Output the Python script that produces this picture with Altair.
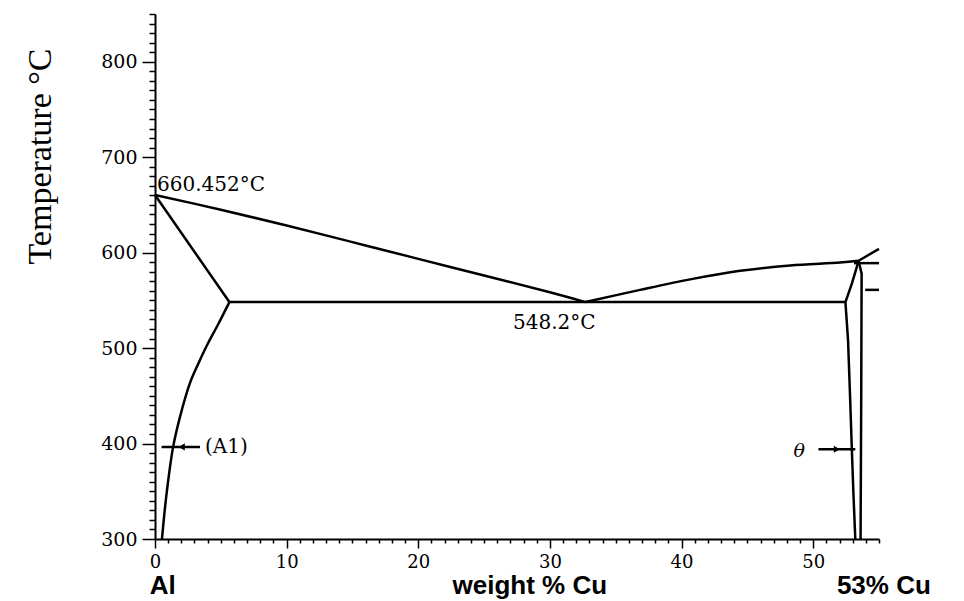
import altair as alt
import pandas as pd

# ---- phase boundary data (weight % Cu, temperature degC) ----
liq_left_x = [0, 5, 10, 15, 20, 25, 30, 32.7]
liq_left_t = [660.452, 645, 628.5, 611, 593.5, 576, 558.5, 548.2]

liq_right_x = [32.7, 36.85, 40.65, 44.45, 48.25, 52.05, 53.45]
liq_right_t = [548.2, 561, 572, 581, 586.5, 589.6, 591.5]

liq_upper_x = [53.45, 55]
liq_upper_t = [591.5, 604]

solidus_x = [0, 5.65]
solidus_t = [660.452, 548.2]

solvus_x = [5.65, 4.8, 3.95, 3.3, 2.66, 1.9, 1.37, 0.91, 0.7, 0.53]
solvus_t = [548.2, 525, 503, 484, 463.5, 428, 396, 351, 325, 300]

eutectic_x = [5.65, 52.45]
eutectic_t = [548.2, 548.2]

theta_left_x = [53.2, 53.05, 52.94, 52.8, 52.65, 52.45, 52.65, 52.95, 53.25, 53.45]
theta_left_t = [300, 350, 393, 450, 508, 548.2, 556, 568, 582, 591.5]

theta_right_x = [53.45, 53.68, 53.65, 53.6]
theta_right_t = [591.5, 578, 450, 300]

plateau_x = [53.1, 55]
plateau_t = [589, 589]

eutectoid_x = [53.95, 55]
eutectoid_t = [561, 561]

arrow_a1_x = [0.5, 3.42]
arrow_a1_t = [396.5, 396.5]
arrow_th_x = [50.4, 53.2]
arrow_th_t = [394, 394]

head_x = [2.03, 51.8]
head_t = [396.5, 394]
head_shape = ["triangle-left", "triangle-right"]

note_text = ["660.452°C", "548.2°C", "(A1)"]
note_x = [0.15, 27.2, 3.8]
note_t = [671, 526, 396.5]

theta_text = ["θ"]
theta_x = [48.5]
theta_t = [392]

bottom_text = ["Al", "weight % Cu", "53% Cu"]
bottom_x = [-0.4, 22.6, 51.8]

curved = {
    "liq_left": (liq_left_x, liq_left_t),
    "liq_right": (liq_right_x, liq_right_t),
    "solvus": (solvus_x, solvus_t),
}
straight = {
    "liq_upper": (liq_upper_x, liq_upper_t),
    "solidus": (solidus_x, solidus_t),
    "eutectic": (eutectic_x, eutectic_t),
    "theta_left": (theta_left_x, theta_left_t),
    "theta_right": (theta_right_x, theta_right_t),
    "plateau": (plateau_x, plateau_t),
    "eutectoid": (eutectoid_x, eutectoid_t),
    "arrow_a1": (arrow_a1_x, arrow_a1_t),
    "arrow_th": (arrow_th_x, arrow_th_t),
}


def to_frame(segs):
    rows = []
    for name, (xs, ts) in segs.items():
        for i, (x, t) in enumerate(zip(xs, ts)):
            rows.append({"seg": name, "i": i, "wt": x, "T": t})
    return pd.DataFrame(rows)


curved_df = to_frame(curved)
straight_df = to_frame(straight)

heads_df = pd.DataFrame({"wt": head_x, "T": head_t, "shape": head_shape})
notes_df = pd.DataFrame({"wt": note_x, "T": note_t, "label": note_text})
theta_df = pd.DataFrame({"wt": theta_x, "T": theta_t, "label": theta_text})
bottom_df = pd.DataFrame({"wt": bottom_x, "label": bottom_text})

xscale = alt.Scale(domain=[0, 55], nice=False, zero=False)
yscale = alt.Scale(domain=[300, 850], nice=False, zero=False)

xaxis = alt.Axis(
    values=list(range(0, 56)),
    labelExpr="datum.value % 10 === 0 ? datum.label : ''",
    tickSize={"condition": {"test": "datum.value % 10 === 0", "value": 9}, "value": 4},
    labelOverlap=False,
    labelFlush=False,
    labelFont="DejaVu Serif",
    labelFontSize=18,
    labelPadding=5,
    grid=False,
)
yaxis = alt.Axis(
    values=list(range(300, 851, 10)),
    labelExpr="datum.value % 100 === 0 ? datum.label : ''",
    tickSize={"condition": {"test": "datum.value % 100 === 0", "value": 13}, "value": 6},
    labelOverlap=False,
    labelFlush=False,
    labelFont="DejaVu Serif",
    labelFontSize=19,
    labelPadding=5,
    grid=False,
    titleFont="Liberation Serif",
    titleFontSize=34,
    titleFontWeight="normal",
    titleX=-115,
    titleY=142,
    titleAngle=270,
    titleAlign="center",
    titleBaseline="middle",
)

X = alt.X("wt:Q", scale=xscale, axis=xaxis, title=None)
Y = alt.Y("T:Q", scale=yscale, axis=yaxis, title="Temperature °C")

curves = alt.Chart(curved_df).mark_line(
    color="black", strokeWidth=2.5, clip=False, interpolate="catmull-rom"
).encode(x=X, y=Y, detail="seg:N", order="i:Q")

lines = alt.Chart(straight_df).mark_line(color="black", strokeWidth=2.5, clip=False).encode(
    x=X, y=Y, detail="seg:N", order="i:Q",
)

heads = alt.Chart(heads_df).mark_point(filled=True, color="black", size=50, opacity=1).encode(
    x=X, y=Y, shape=alt.Shape("shape:N", scale=None),
)

notes = alt.Chart(notes_df).mark_text(
    align="left", baseline="middle", font="DejaVu Serif", fontSize=20, color="black"
).encode(x=X, y=Y, text="label:N")

theta_note = alt.Chart(theta_df).mark_text(
    align="left", baseline="middle", font="DejaVu Serif", fontSize=19,
    fontStyle="italic", color="black"
).encode(x=X, y=Y, text="label:N")

bottom = alt.Chart(bottom_df).mark_text(
    align="left", baseline="alphabetic", font="Liberation Sans", fontSize=26,
    fontWeight="bold", color="black"
).encode(x=X, y=alt.value(580), text="label:N")

chart = (
    alt.layer(curves, lines, heads, notes, theta_note, bottom)
    .properties(
        width=724,
        height=525,
        autosize=alt.AutoSizeParams(type="none"),
        padding={"left": 147, "top": 6, "right": 76, "bottom": 64},
    )
    .configure_view(stroke=None)
    .configure_axis(
        domainColor="black",
        domainWidth=2,
        tickColor="black",
        tickWidth=1.5,
        labelColor="black",
        titleColor="black",
    )
)

chart.save("out.html", embed_options={"renderer": "svg", "actions": False})
